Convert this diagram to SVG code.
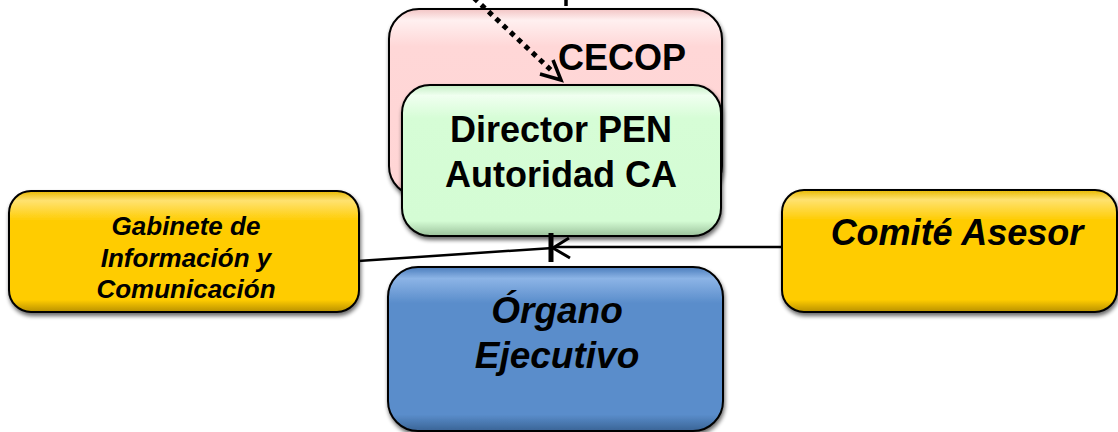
<svg xmlns="http://www.w3.org/2000/svg" width="1118" height="432" viewBox="0 0 1118 432">
  <defs>
    <filter id="sh" x="-10%" y="-10%" width="120%" height="130%">
      <feGaussianBlur in="SourceAlpha" stdDeviation="2"/>
      <feOffset dx="1" dy="3" result="o"/>
      <feComponentTransfer><feFuncA type="linear" slope="0.6"/></feComponentTransfer>
      <feMerge><feMergeNode/><feMergeNode in="SourceGraphic"/></feMerge>
    </filter>
    <linearGradient id="gPink" x1="0" y1="0" x2="0" y2="1">
      <stop offset="0" stop-color="#f2c4c4"/>
      <stop offset="0.06" stop-color="#fff0f0"/>
      <stop offset="0.2" stop-color="#ffd7d7"/>
      <stop offset="0.92" stop-color="#ffd5d5"/>
      <stop offset="1" stop-color="#d9aaaa"/>
    </linearGradient>
    <linearGradient id="gGreen" x1="0" y1="0" x2="0" y2="1">
      <stop offset="0" stop-color="#c4eec4"/>
      <stop offset="0.07" stop-color="#f0fff0"/>
      <stop offset="0.22" stop-color="#d6fdd6"/>
      <stop offset="0.9" stop-color="#d4fcd4"/>
      <stop offset="1" stop-color="#9cc29c"/>
    </linearGradient>
    <linearGradient id="gYellow" x1="0" y1="0" x2="0" y2="1">
      <stop offset="0" stop-color="#e8b800"/>
      <stop offset="0.08" stop-color="#ffe270"/>
      <stop offset="0.25" stop-color="#ffcc00"/>
      <stop offset="0.9" stop-color="#ffcc00"/>
      <stop offset="1" stop-color="#b89000"/>
    </linearGradient>
    <linearGradient id="gBlue" x1="0" y1="0" x2="0" y2="1">
      <stop offset="0" stop-color="#4a7cbc"/>
      <stop offset="0.07" stop-color="#8cb4e6"/>
      <stop offset="0.22" stop-color="#5a8dcb"/>
      <stop offset="0.9" stop-color="#5a8dcb"/>
      <stop offset="1" stop-color="#3a6496"/>
    </linearGradient>
  </defs>
  <style>
    .box { stroke: #000; stroke-width: 2; filter: url(#sh); }
    .t { font-family: "Liberation Sans", Arial, sans-serif; font-weight: bold; fill: #000; text-anchor: middle; }
    .i { font-style: italic; }
    .ln { fill: none; stroke: #000; }
  </style>

  <g id="cecop">
    <rect class="box" x="389" y="9" width="333" height="187" rx="30" fill="url(#gPink)"/>
    <text class="t" x="622" y="70" font-size="36">CECOP</text>
  </g>

  <g id="director">
    <rect class="box" x="402" y="85" width="319" height="151" rx="28" fill="url(#gGreen)"/>
    <text class="t" x="561" y="142" font-size="36">Director PEN</text>
    <text class="t" x="561" y="187" font-size="36">Autoridad CA</text>
  </g>

  <g id="gabinete">
    <rect class="box" x="9" y="191" width="350" height="121" rx="22" fill="url(#gYellow)"/>
    <text class="t i" x="186" y="235" font-size="26">Gabinete de</text>
    <text class="t i" x="186" y="267" font-size="26">Información y</text>
    <text class="t i" x="186" y="298" font-size="26">Comunicación</text>
  </g>

  <g id="comite">
    <rect class="box" x="782" y="190" width="335" height="122" rx="22" fill="url(#gYellow)"/>
    <text class="t i" x="957" y="245" font-size="36">Comité Asesor</text>
  </g>

  <g id="organo">
    <rect class="box" x="388" y="267" width="335" height="164" rx="30" fill="url(#gBlue)"/>
    <text class="t i" x="557" y="323" font-size="37">Órgano</text>
    <text class="t i" x="557" y="368" font-size="37">Ejecutivo</text>
  </g>

  <g id="connectors">
    <line class="ln" x1="566" y1="0" x2="566" y2="6" stroke-width="3.5"/>
    <line class="ln" x1="474" y1="-2" x2="552" y2="71" stroke-width="5" stroke-dasharray="5 5"/>
    <path class="ln" d="M540,74 L561,80 L553,60" stroke-width="3.5"/>
    <line class="ln" x1="358" y1="261" x2="553" y2="248" stroke-width="2.5"/>
    <line class="ln" x1="782" y1="247" x2="556" y2="247" stroke-width="2.5"/>
    <path class="ln" d="M569,238 L553,248 L570,258" stroke-width="3"/>
    <line class="ln" x1="551" y1="233" x2="551" y2="262" stroke-width="5"/>
  </g>
</svg>
